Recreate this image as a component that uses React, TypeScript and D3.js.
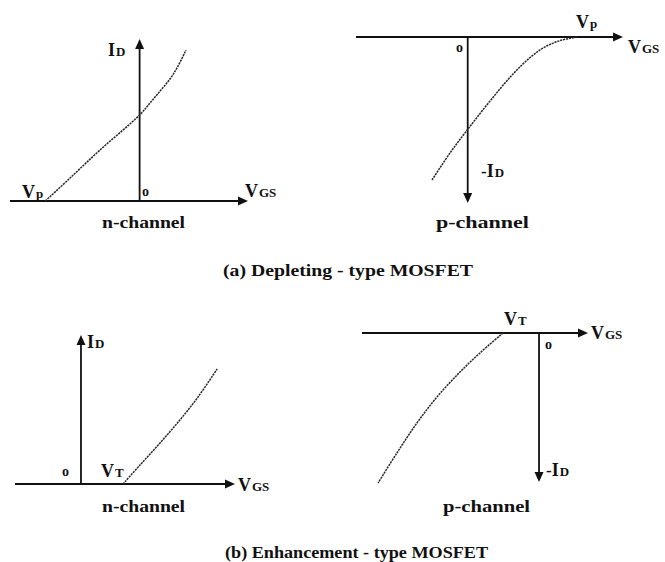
import React from "react";
import * as d3 from "d3";

// Transfer characteristics, VGS in volts, ID in mA (magnitude for p-channel).

// (a) depletion-type, n-channel
const depNVgs = [-4.0, -2.95, -1.68, 0, 0.44, 0.87, 1.29, 1.63, 1.97];
const depNId = [0, 2.27, 5.04, 8.49, 9.68, 10.86, 12.05, 13.33, 14.91];

// (a) depletion-type, p-channel
const depPVgs = [4.01, 3.39, 2.84, 2.29, 1.63, 0.82, 0.01, -0.65, -1.31];
const depPId = [0, 0.35, 0.95, 1.98, 3.66, 6.17, 8.87, 11.18, 13.78];

// (b) enhancement-type, n-channel
const enhNVgs = [2.0, 2.81, 3.76, 4.71, 5.57, 6.48];
const enhNId = [0, 1.91, 4.13, 6.45, 8.76, 11.58];

// (b) enhancement-type, p-channel
const enhPVgs = [-2.0, -3.28, -4.39, -5.67, -6.78, -7.89, -8.94];
const enhPId = [0, 2.01, 3.93, 6.45, 9.06, 12.08, 15.1];

const captions = ["(a) Depleting - type MOSFET", "(b) Enhancement - type MOSFET"];
const channelNames = ["n-channel", "p-channel"];

const FONT = "'Liberation Serif', 'Times New Roman', serif";
const INK = "#111";

type Panel = {
  vgs: number[];
  id: number[];
  xDomain: [number, number];
  xRange: [number, number];
  yDomain: [number, number];
  yRange: [number, number];
  down: boolean;
  pinch: string;
  channel: string;
  layout: {
    idLabel: [number, number];
    origin: [number, number];
    pinchLabel: [number, number];
    vgsLabel: [number, number];
    channelLabel: [number, number];
    channelWidth: number;
  };
};

const panels: Panel[] = [
  {
    vgs: depNVgs,
    id: depNId,
    xDomain: [-5.5, 4.6],
    xRange: [10, 248],
    yDomain: [0, 16],
    yRange: [201, 39],
    down: false,
    pinch: "p",
    channel: channelNames[0],
    layout: {
      idLabel: [108, 56],
      origin: [142, 196],
      pinchLabel: [22, 198],
      vgsLabel: [245, 197],
      channelLabel: [102, 228],
      channelWidth: 83,
    },
  },
  {
    vgs: depPVgs,
    id: depPId,
    xDomain: [-4.1, 5.7],
    xRange: [356, 623],
    yDomain: [0, 16],
    yRange: [37, 203],
    down: true,
    pinch: "p",
    channel: channelNames[1],
    layout: {
      idLabel: [481, 177],
      origin: [456, 52],
      pinchLabel: [576, 28],
      vgsLabel: [628, 53],
      channelLabel: [436, 228],
      channelWidth: 93,
    },
  },
  {
    vgs: enhNVgs,
    id: enhNId,
    xDomain: [-3.14, 7.33],
    xRange: [15, 235],
    yDomain: [0, 15],
    yRange: [484, 335],
    down: false,
    pinch: "T",
    channel: channelNames[0],
    layout: {
      idLabel: [87, 348],
      origin: [62, 476],
      pinchLabel: [101, 477],
      vgsLabel: [238, 491],
      channelLabel: [102, 512],
      channelWidth: 83,
    },
  },
  {
    vgs: enhPVgs,
    id: enhPId,
    xDomain: [-9.83, 2.72],
    xRange: [362, 588],
    yDomain: [0, 15],
    yRange: [333, 482],
    down: true,
    pinch: "T",
    channel: channelNames[1],
    layout: {
      idLabel: [546, 476],
      origin: [545, 349],
      pinchLabel: [504, 325],
      vgsLabel: [591, 339],
      channelLabel: [443, 512],
      channelWidth: 87,
    },
  },
];

function Arrow({ x, y, dir }: { x: number; y: number; dir: "right" | "up" | "down" }) {
  const L = 10;
  const W = 4.5;
  let pts: [number, number][];
  if (dir === "right") pts = [[x, y], [x - L, y - W], [x - L, y + W]];
  else if (dir === "up") pts = [[x, y], [x - W, y + L], [x + W, y + L]];
  else pts = [[x, y], [x - W, y - L], [x + W, y - L]];
  return <polygon points={pts.map((p) => p.join(",")).join(" ")} fill={INK} />;
}

function Sym({ x, y, main, sub, prefix }: { x: number; y: number; main: string; sub: string; prefix?: string }) {
  return (
    <text x={x} y={y} fontFamily={FONT} fontWeight="bold" fill={INK}>
      {prefix ? <tspan fontSize={17}>{prefix}</tspan> : null}
      <tspan fontSize={18}>{main}</tspan>
      <tspan fontSize={13} dx={1}>{sub}</tspan>
    </text>
  );
}

function PanelView({ p }: { p: Panel }) {
  const x = d3.scaleLinear().domain(p.xDomain).range(p.xRange);
  const y = d3.scaleLinear().domain(p.yDomain).range(p.yRange);
  const pts: [number, number][] = p.vgs.map((v, i) => [v, p.id[i]]);
  const line = d3
    .line<[number, number]>()
    .x((d) => x(d[0]))
    .y((d) => y(d[1]))
    .curve(d3.curveCatmullRom.alpha(0.5));
  const x0 = x(0);
  const y0 = y(0);
  const yEnd = p.yRange[1];
  const L = p.layout;
  return (
    <g>
      <line x1={p.xRange[0]} y1={y0} x2={p.xRange[1] - 4} y2={y0} stroke={INK} strokeWidth={1.8} />
      <Arrow x={p.xRange[1]} y={y0} dir="right" />
      <line x1={x0} y1={y0} x2={x0} y2={p.down ? yEnd - 4 : yEnd + 4} stroke={INK} strokeWidth={1.8} />
      <Arrow x={x0} y={yEnd} dir={p.down ? "down" : "up"} />
      <path d={line(pts) ?? ""} fill="none" stroke="#2a2a2a" strokeWidth={1.5} strokeDasharray="2.2 0.8" />
      <Sym x={L.idLabel[0]} y={L.idLabel[1]} main="I" sub="D" prefix={p.down ? "-" : undefined} />
      <text x={L.origin[0]} y={L.origin[1]} fontFamily={FONT} fontWeight="bold" fontSize={14} fill={INK}>
        o
      </text>
      <Sym x={L.pinchLabel[0]} y={L.pinchLabel[1]} main="V" sub={p.pinch} />
      <Sym x={L.vgsLabel[0]} y={L.vgsLabel[1]} main="V" sub="GS" />
      <text
        x={L.channelLabel[0]}
        y={L.channelLabel[1]}
        fontFamily={FONT}
        fontWeight="bold"
        fontSize={16.5}
        fill={INK}
        textLength={L.channelWidth}
        lengthAdjust="spacingAndGlyphs"
      >
        {p.channel}
      </text>
    </g>
  );
}

export default function App() {
  return (
    <svg
      width={665}
      height={562}
      viewBox="0 0 665 562"
      style={{ position: "absolute", left: 0, top: 0, display: "block", background: "#fff" }}
    >
      <rect width={665} height={562} fill="#fff" />
      {panels.map((p, i) => (
        <PanelView key={i} p={p} />
      ))}
      <text x={223} y={276} fontFamily={FONT} fontWeight="bold" fontSize={17} fill={INK} textLength={250} lengthAdjust="spacingAndGlyphs">
        {captions[0]}
      </text>
      <text x={225} y={558} fontFamily={FONT} fontWeight="bold" fontSize={17} fill={INK} textLength={263} lengthAdjust="spacingAndGlyphs">
        {captions[1]}
      </text>
    </svg>
  );
}
